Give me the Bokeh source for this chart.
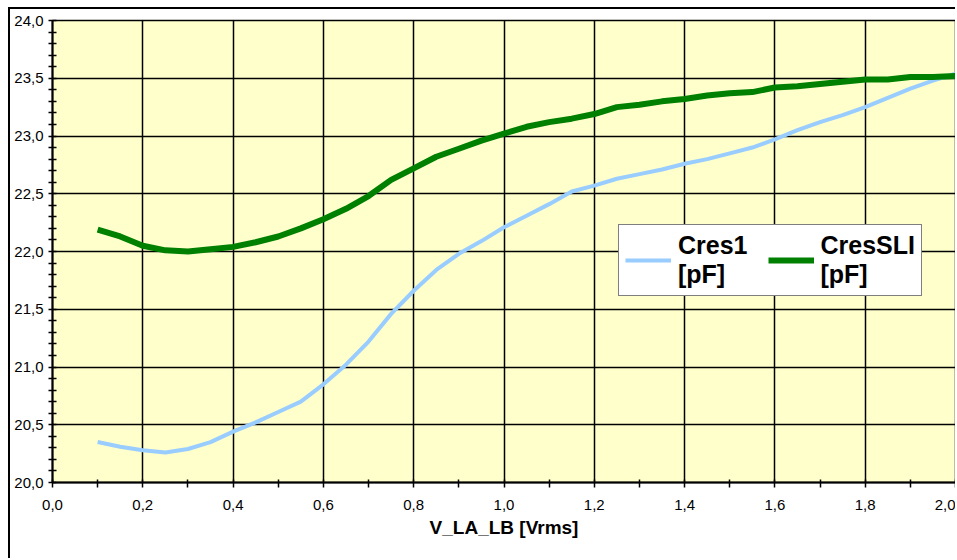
from bokeh.plotting import figure
from bokeh.models import (ColumnDataSource, FixedTicker, CustomJSTickFormatter,
                          Legend, LegendItem)
from bokeh.embed import file_html
from bokeh.resources import INLINE

# ---- data ----
v_rms = [0.10, 0.15, 0.20, 0.25, 0.30, 0.35, 0.40, 0.45, 0.50, 0.55,
         0.60, 0.65, 0.70, 0.75, 0.80, 0.85, 0.90, 0.95, 1.00, 1.05,
         1.10, 1.15, 1.20, 1.25, 1.30, 1.35, 1.40, 1.45, 1.50, 1.55,
         1.60, 1.65, 1.70, 1.75, 1.80, 1.85, 1.90, 1.95, 2.00]
cres1 = [20.35, 20.31, 20.28, 20.26, 20.29, 20.35, 20.44, 20.52, 20.61, 20.70,
         20.85, 21.02, 21.22, 21.46, 21.66, 21.84, 21.98, 22.09, 22.21, 22.31,
         22.41, 22.52, 22.57, 22.63, 22.67, 22.71, 22.76, 22.80, 22.85, 22.90,
         22.97, 23.05, 23.12, 23.18, 23.25, 23.33, 23.41, 23.48, 23.54]
cressli = [22.19, 22.13, 22.05, 22.01, 22.00, 22.02, 22.04, 22.08, 22.13, 22.20,
           22.28, 22.37, 22.48, 22.62, 22.72, 22.82, 22.89, 22.96, 23.02, 23.08,
           23.12, 23.15, 23.19, 23.25, 23.27, 23.30, 23.32, 23.35, 23.37, 23.38,
           23.42, 23.43, 23.45, 23.47, 23.49, 23.49, 23.51, 23.51, 23.52]
x_ticks = [0.0, 0.2, 0.4, 0.6, 0.8, 1.0, 1.2, 1.4, 1.6, 1.8, 2.0]
x_minor = [0.1, 0.3, 0.5, 0.7, 0.9, 1.1, 1.3, 1.5, 1.7, 1.9]
y_ticks = [20.0, 20.5, 21.0, 21.5, 22.0, 22.5, 23.0, 23.5, 24.0]
y_minor = [20.1, 20.2, 20.3, 20.4, 20.6, 20.7, 20.8, 20.9, 21.1, 21.2, 21.3, 21.4,
           21.6, 21.7, 21.8, 21.9, 22.1, 22.2, 22.3, 22.4, 22.6, 22.7, 22.8, 22.9,
           23.1, 23.2, 23.3, 23.4, 23.6, 23.7, 23.8, 23.9]
x_title = "V_LA_LB [Vrms]"
labels = ["Cres1\n[pF]", "CresSLI\n[pF]"]

FONT = "Liberation Sans"

src = ColumnDataSource(dict(x=v_rms, a=cres1, b=cressli))

p = figure(width=947, height=551, x_range=(0.0, 2.0), y_range=(20.0, 24.0),
           output_backend="svg", toolbar_location=None,
           min_border_left=42, min_border_top=11, min_border_right=2,
           min_border_bottom=78)
p.styles = {"margin-left": "8px", "margin-top": "7px",
            "border-left": "2px solid black", "border-top": "2px solid black"}

p.background_fill_color = "#FFFFCC"
p.border_fill_color = "white"
p.outline_line_color = "black"
p.outline_line_width = 1.5

fmt = CustomJSTickFormatter(code="return tick.toFixed(1).replace('.', ',');")

p.xaxis.ticker = FixedTicker(ticks=x_ticks, minor_ticks=x_minor)
p.yaxis.ticker = FixedTicker(ticks=y_ticks, minor_ticks=y_minor)
p.xaxis.formatter = fmt
p.yaxis.formatter = fmt

for ax in (p.xaxis[0], p.yaxis[0]):
    ax.axis_line_color = "black"
    ax.axis_line_width = 2
    ax.major_tick_line_color = "black"
    ax.minor_tick_line_color = "black"
    ax.major_tick_line_width = 1.5
    ax.minor_tick_line_width = 1.5
    ax.major_label_text_font = FONT
    ax.major_label_text_font_size = "15px"
    ax.major_label_text_color = "black"

p.yaxis.major_tick_in = 4
p.yaxis.major_tick_out = 4
p.yaxis.minor_tick_in = 4
p.yaxis.minor_tick_out = 4
p.yaxis.major_label_standoff = 5

p.xaxis.major_tick_in = 3
p.xaxis.major_tick_out = 5
p.xaxis.minor_tick_in = 3
p.xaxis.minor_tick_out = 5
p.xaxis.major_label_standoff = 12

p.xaxis.axis_label = x_title
p.xaxis.axis_label_text_font = FONT
p.xaxis.axis_label_text_font_style = "bold"
p.xaxis.axis_label_text_font_size = "19px"
p.xaxis.axis_label_text_color = "black"
p.xaxis.axis_label_standoff = 4

p.xgrid.ticker = FixedTicker(ticks=x_ticks)
p.ygrid.ticker = FixedTicker(ticks=y_ticks)
p.grid.grid_line_color = "black"
p.grid.grid_line_width = 1.5

r1 = p.line("x", "a", source=src, line_color="#99CCFF", line_width=4)
r2 = p.line("x", "b", source=src, line_color="#008000", line_width=6)

legend = Legend(items=[LegendItem(label=labels[0], renderers=[r1]),
                       LegendItem(label=labels[1], renderers=[r2])],
                orientation="horizontal", location=(566, 186),
                glyph_width=46, glyph_height=24, label_standoff=7, spacing=20,
                padding=6, margin=0,
                label_text_font=FONT, label_text_font_style="bold",
                label_text_font_size="25px", label_text_line_height=1.0,
                label_text_color="black",
                border_line_color="black", border_line_width=1.5,
                background_fill_color="white", background_fill_alpha=1.0)
p.add_layout(legend, "center")

open("out.html", "w").write(file_html(p, INLINE))
